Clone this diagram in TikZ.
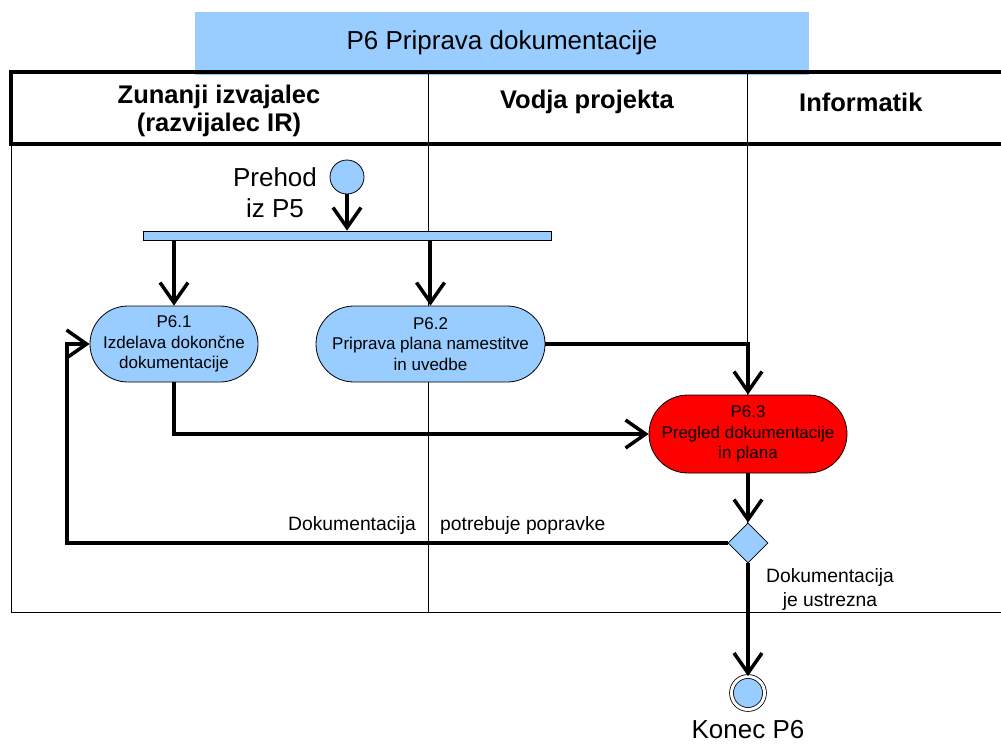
\documentclass[tikz,border=0pt]{standalone}
\usepackage{fontspec}
\setmainfont{Liberation Sans}
\usetikzlibrary{arrows.meta,shapes.geometric}
\definecolor{lblue}{RGB}{153,204,255}
\definecolor{pred}{RGB}{255,0,0}
\begin{document}
\begin{tikzpicture}[x=1pt,y=-1pt,
  flow/.style={line width=3.5pt,-{Straight Barb[length=20pt,width=28pt]}},
  act/.style={draw,line width=0.8pt,rectangle,rounded corners=37.9pt,minimum height=76pt,inner sep=1pt,align=center,font=\fontsize{17}{20.5}\selectfont},
  big/.style={font=\fontsize{26}{31}\selectfont,align=center,inner sep=0pt},
  hdr/.style={font=\bfseries\fontsize{25.5}{28}\selectfont,align=center,inner sep=0pt},
  lbl/.style={font=\fontsize{19.3}{24}\selectfont,align=center,inner sep=0pt},
  thin/.style={line width=1pt},
  thick/.style={line width=3.5pt}
]
\useasboundingbox (0,0) rectangle (1001,744);
% title
\node[fill=lblue,minimum width=614pt,minimum height=63pt,inner sep=0pt] (title) at (502,43.5) {};
\node[big] (titletext) at (502,43) {P6 Priprava dokumentacije};
% table
\draw[thin] (428,72) -- (428,612);
\draw[thin] (747,72) -- (747,612);
\draw[thin] (11,144) -- (11,612) -- (1001,612);
\draw[thick] (1001,72) -- (11,72) -- (11,144) -- (1001,144);
\node[hdr] (h1) at (219,111) {Zunanji izvajalec\\(razvijalec IR)};
\node[hdr] (h2) at (587,102) {Vodja projekta};
\node[hdr,anchor=west] (h3) at (799,102) {Informatik};
% nodes
\node[circle,draw,line width=0.8pt,fill=lblue,minimum size=34pt,inner sep=0pt] (start) at (347,177) {};
\node[big] (prehod) at (275,193) {Prehod\\iz P5};
\node[rectangle,draw,line width=0.8pt,fill=lblue,minimum width=408pt,minimum height=9pt,inner sep=0pt] (fork) at (347,235.5) {};
\node[act,fill=lblue,minimum width=168pt] (p61) at (174,344) {P6.1\\Izdelava dokončne\\dokumentacije};
\node[act,fill=lblue,minimum width=229pt] (p62) at (430.5,344) {P6.2\\Priprava plana namestitve\\in uvedbe};
\node[act,fill=pred,minimum width=198pt,minimum height=78pt,rounded corners=38.9pt] (p63) at (748,434) {P6.3\\Pregled dokumentacije\\in plana};
\node[diamond,draw,line width=0.8pt,fill=lblue,minimum width=40pt,minimum height=40pt,inner sep=0pt] (dec) at (748,543) {};
\node[circle,draw,line width=0.8pt,double,double distance=3pt,fill=lblue,minimum size=33pt,inner sep=0pt] (end) at (748,693) {};
\node[big] (konec) at (748,730) {Konec P6};
\coordinate (loop) at (67,344);
% connectors
\draw[flow] (start.south) -- (start.south |- fork.north);
\draw[flow] (p61.north |- fork.south) -- (p61.north);
\draw[flow] (p62.north |- fork.south) -- (p62.north);
\draw[flow] (p62.east) -- (p62.east -| p63.north) -- (p63.north);
\draw[flow] (p61.south) -- (p61.south |- p63.west) -- (p63.west);
\draw[flow] (p63.south) -- (dec.north);
\draw[flow] (dec.west) -- (dec.west -| loop) -- (loop) -- (p61.west);
\draw[flow] (dec.south) -- (end.north);
% labels
\node[lbl,anchor=east] (l1) at (416,526) {Dokumentacija};
\node[lbl,anchor=west] (l2) at (440,526) {potrebuje popravke};
\node[lbl] (l3) at (830,590) {Dokumentacija\\je ustrezna};
\end{tikzpicture}
\end{document}
